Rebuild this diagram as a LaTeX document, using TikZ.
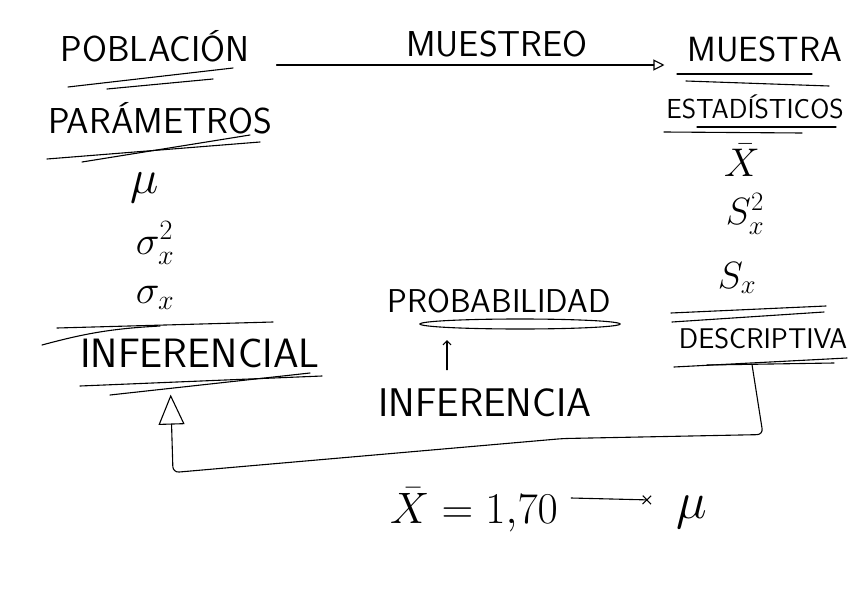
\RequirePackage{fix-cm}
\documentclass[tikz,border=0pt]{standalone}
\usepackage{amsmath,amssymb}
\usetikzlibrary{arrows.meta, calc}

\tikzset{
  texto/.style={font=\sffamily\fontsize{#1}{#1}\selectfont, inner sep=1pt},
  texto/.default=34,
  simbolo/.style={font=\fontsize{#1}{#1}\selectfont, inner sep=1pt},
  simbolo/.default=34,
  trazo/.style={line width=1.1pt, line cap=round},
}

\begin{document}
\begin{tikzpicture}[x=1pt, y=-1pt]
\useasboundingbox (0,0) rectangle (848,599);
% Titles
\node[texto=36] (poblacion) at (155,46) {POBLACIÓN};
\node[texto=36] (muestreo) at (497,44) {MUESTREO};
\node[texto=35] (muestra) at (765,49) {MUESTRA};
\node[texto=36] (parametros) at (160,118) {PARÁMETROS};
\node[texto=27.5] (estadisticos) at (755,107) {ESTADÍSTICOS};
% Parameters and statistics
\node[simbolo=48] (mu) at (145,188) {$\mu$};
\node[simbolo=40] (varpob) at (155,243) {$\sigma^2_x$};
\node[simbolo=40] (despob) at (155,298) {$\sigma_x$};
\node[simbolo=40] (media) at (742,160) {$\bar{X}$};
\node[simbolo=38] (varmue) at (745,214) {$S^2_x$};
\node[simbolo=38] (desmue) at (737,278) {$S_x$};
% Lower labels
\node[texto=41] (inferencial) at (200,353) {INFERENCIAL};
\node[texto=33] (probabilidad) at (499,301) {PROBABILIDAD};
\node[texto=40] (inferencia) at (485,403) {INFERENCIA};
\node[texto=28.5] (descriptiva) at (763,339) {DESCRIPTIVA};
\node[simbolo=44] (estimador) at (474,510) {$\bar{X} = 1{,}70$};
\node[simbolo=52] (mufinal) at (692,512) {$\mu$};
% Underlines
\draw[trazo] (68,87) -- (233,68);
\draw[trazo] (107,89) -- (213,79);
\draw[trazo] (47,159) -- (260,142);
\draw[trazo] (82,162) -- (250,135);
\draw[trazo] (677,74) -- (812,74);
\draw[trazo] (686,81) -- (829,86);
\draw[trazo] (664,132) -- (802,133);
\draw[trazo] (697,127) -- (836,127);
\draw[trazo] (57,328) -- (273,322);
\draw[trazo] (42,345) to[bend left=6] (160,326);
\draw[trazo] (80,386) -- (322,376);
\draw[trazo] (110,395) -- (310,373);
\draw[trazo] (520,324) ellipse[x radius=100, y radius=5];
\draw[trazo] (671,313) -- (826,306);
\draw[trazo] (672,322) -- (824,312);
\draw[trazo] (674,367) -- (847,358);
\draw[trazo] (707,365) -- (834,363);
% Connectors
\draw[trazo, -{Triangle[open, length=11pt, width=11pt]}]
  ([xshift=26pt, yshift=-2pt]poblacion.south east) -- ([xshift=-22pt, yshift=-2pt]muestra.west |- poblacion.south east);
\draw[trazo, -{Straight Barb[length=4pt]}, shorten <=18pt, shorten >=26pt]
  ([xshift=-38pt]inferencia.north) -- ([xshift=-52pt]probabilidad.south);
\draw[trazo, rounded corners=6pt, -{Triangle[open, length=30pt, width=26pt]}, shorten >=22pt]
  ([xshift=-11pt, yshift=-14pt]descriptiva.south) -- ++(11,70) -- ++(-200,4)
  -- ++(-390,34) -- ([xshift=-30pt, yshift=-4pt]inferencial.south);
\draw[trazo, -{Rays[n=4, length=12pt]}]
  ([xshift=12pt, yshift=12pt]estimador.east) -- ([xshift=-24pt, yshift=12pt]mufinal.west);
\end{tikzpicture}
\end{document}
